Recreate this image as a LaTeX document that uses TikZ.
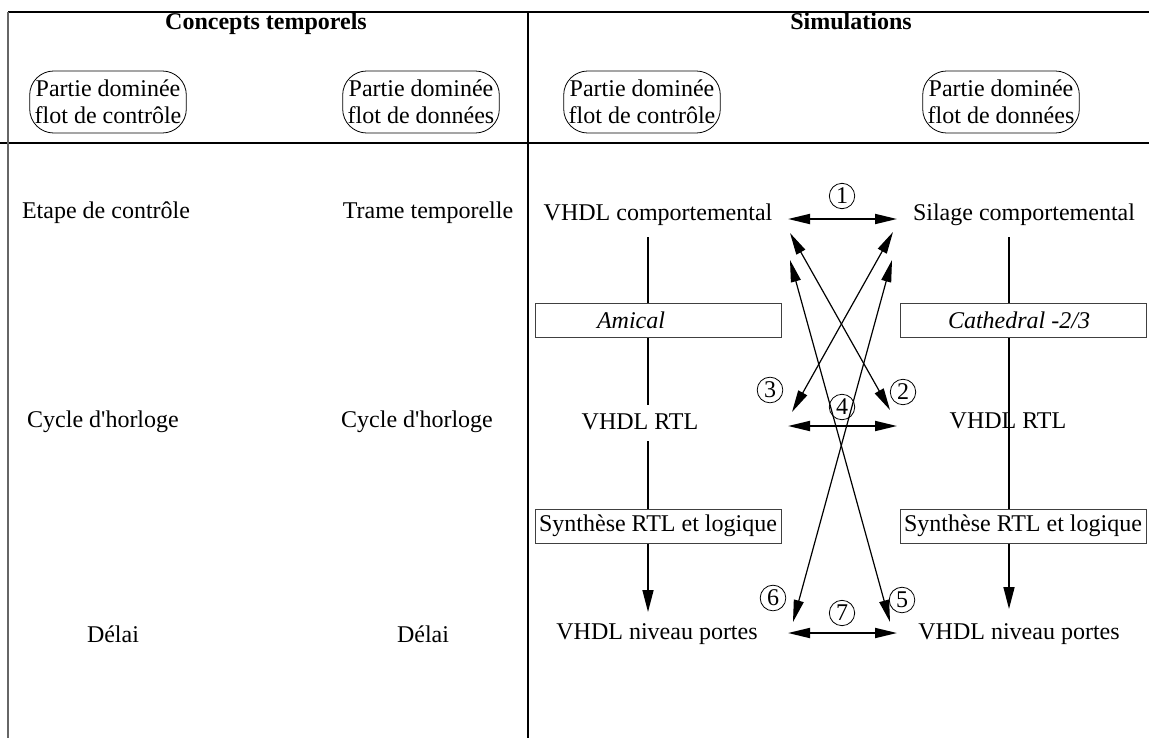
\documentclass[tikz,border=0pt]{standalone}
\usepackage{fontspec}
\setmainfont{Liberation Serif}
\usetikzlibrary{arrows.meta}
\newcommand{\diagfont}{\fontsize{12}{13.5}\selectfont}

\begin{document}
\begin{tikzpicture}[x=0.5pt, y=-0.5pt, font=\diagfont,
  rbox/.style={draw, rounded corners=12pt, align=center, inner xsep=2.5pt, inner ysep=1.5pt, minimum height=31pt},
  tbox/.style={draw=black!75, fill=white, minimum width=123pt, minimum height=17pt, inner sep=1.5pt},
  num/.style={circle, draw, inner sep=1pt, font=\fontsize{12}{12}\selectfont},
  link/.style={{Triangle[length=11pt,width=5pt]}-{Triangle[length=11pt,width=5pt]}, line width=0.6pt},
  flow/.style={-{Triangle[length=11pt,width=5.5pt]}, line width=0.8pt}]
  \useasboundingbox (0,0) rectangle (1149,738);

  \draw[line width=0.9pt] (8,12) -- (1149,12);
  \draw[line width=0.9pt] (0,143) -- (1149,143);
  \draw[line width=1pt, black!60] (8,12) -- (8,738);
  \draw[line width=1pt] (528,12) -- (528,738);

  \node[font=\diagfont\bfseries, anchor=base] (ct) at (266,30) {Concepts temporels};
  \node[font=\diagfont\bfseries, anchor=base] (sim) at (851,30) {Simulations};

  \node[rbox] (pc1) at (108,102) {Partie dominée\\flot de contrôle};
  \node[rbox] (pd1) at (421,102) {Partie dominée\\flot de données};
  \node[rbox] (pc2) at (642,102) {Partie dominée\\flot de contrôle};
  \node[rbox] (pd2) at (1001,102) {Partie dominée\\flot de données};

  \node (etape) at (106,213) {Etape de contrôle};
  \node (trame) at (428,213) {Trame temporelle};
  \node (cyc1) at (103,422) {Cycle d\textquotesingle horloge};
  \node (cyc2) at (417,422) {Cycle d\textquotesingle horloge};
  \node (del1) at (113,634) {Délai};
  \node (del2) at (423,634) {Délai};

  \node (vc) at (658,215) {VHDL comportemental};
  \node (sc) at (1024,215) {Silage comportemental};
  \node (rtl1) at (640,422) {VHDL RTL};
  \node (rtl2) at (1008,421) {VHDL RTL};
  \node (np1) at (657,634) {VHDL niveau portes};
  \node (np2) at (1019,634) {VHDL niveau portes};

  \coordinate (lc) at (648,237);
  \coordinate (rc) at (1009,237);
  \draw[line width=0.8pt] (lc) -- (lc |- 0,320);
  \draw[line width=0.8pt] (lc |- 0,320) -- (lc |- 0,405);
  \draw[line width=0.8pt] (lc |- 0,441) -- (lc |- 0,526);
  \draw[line width=0.8pt] (rc) -- (rc |- 0,526);
  \draw[flow] (lc |- 0,526) -- (lc |- 0,612);
  \draw[flow] (rc |- 0,526) -- (rc |- 0,609);

  \node[tbox] (am) at (658,320) {\makebox[120pt][l]{\hspace{29.5pt}\itshape Amical}};
  \node[tbox] (ca) at (1023,320) {\makebox[120pt][l]{\hspace{22.5pt}\itshape Cathedral -2/3}};
  \node[tbox] (syn1) at (658,526) {Synthèse RTL et logique};
  \node[tbox] (syn2) at (1023,526) {Synthèse RTL et logique};

  \coordinate (h1l) at (788,219);  \coordinate (h1r) at (897,219);
  \coordinate (h4l) at (788,426);  \coordinate (h4r) at (897,426);
  \coordinate (h7l) at (788,633);  \coordinate (h7r) at (897,633);
  \draw[link, line width=0.9pt] (h1l) -- (h1r);
  \draw[link, line width=0.9pt] (h4l) -- (h4r);
  \draw[link, line width=0.9pt] (h7l) -- (h7r);

  \coordinate (x2a) at (790,233);  \coordinate (x2b) at (890,410);
  \coordinate (x3a) at (893,232);  \coordinate (x3b) at (792,412);
  \coordinate (x5a) at (790,260);  \coordinate (x5b) at (890,622);
  \coordinate (x6a) at (892,260);  \coordinate (x6b) at (793,622);
  \draw[link] (x2a) -- (x2b);
  \draw[link] (x3a) -- (x3b);
  \draw[link] (x5a) -- (x5b);
  \draw[link] (x6a) -- (x6b);

  \node[num] (n1) at (842,196) {1};
  \node[num] (n2) at (903,392) {2};
  \node[num] (n3) at (770,390) {3};
  \node[num] (n4) at (842,407) {4};
  \node[num] (n5) at (902,600) {5};
  \node[num] (n6) at (773,598) {6};
  \node[num] (n7) at (842,613) {7};
\end{tikzpicture}
\end{document}
